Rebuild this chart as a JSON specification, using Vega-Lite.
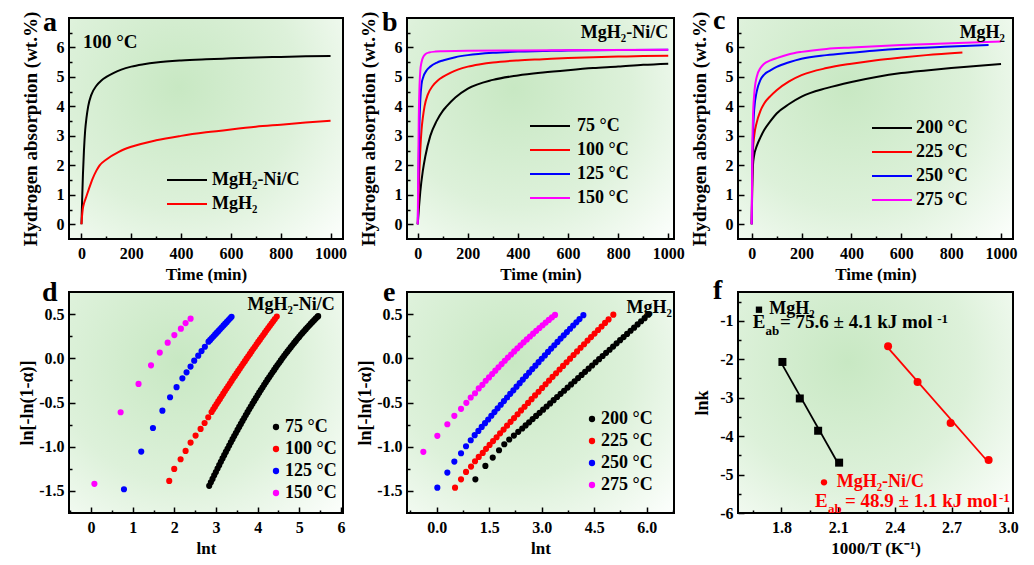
{
"$schema":"https://vega.github.io/schema/vega-lite/v6.json",
"padding":{"left":17,"top":5,"right":5,"bottom":5},
"config":{
"font":"Liberation Serif",
"locale":{"number":{"decimal":".","thousands":"","grouping":[3],"currency":["",""],"minus":"-"}},
"view":{"stroke":"#000","strokeWidth":2,"fill":{"gradient":"radial","x1":0.4,"y1":0.35,"r1":0,"x2":0.4,"y2":0.35,"r2":0.8,"stops":[{"offset":0,"color":"#c8e8c3"},{"offset":0.55,"color":"#ddf1da"},{"offset":1,"color":"#fbfefb"}]}},
"axis":{"domain":false,"grid":false,"tickColor":"#000","tickWidth":1.5,"labelFont":"Liberation Serif","labelFontSize":16,"labelFontWeight":"bold","labelColor":"#000","titleFont":"Liberation Serif","titleFontSize":18,"titleFontWeight":"bold","titleColor":"#000","labelOverlap":false,"labelFlush":false},
"axisX":{"labelPadding":12,"titlePadding":2,"titleFontSize":17},
"axisY":{"labelPadding":11,"titlePadding":10},
"legend":{"labelFont":"Liberation Serif","labelFontSize":18,"labelFontWeight":"bold","labelColor":"#000"},
"text":{"font":"Liberation Serif","fontWeight":"bold","color":"#000"}
},
"datasets":{
"a":[
{"s":"MgH₂-Ni/C","x":0,"y":0},{"s":"MgH₂-Ni/C","x":3,"y":0.9},{"s":"MgH₂-Ni/C","x":6,"y":1.7},{"s":"MgH₂-Ni/C","x":10,"y":2.5},{"s":"MgH₂-Ni/C","x":15,"y":3.2},{"s":"MgH₂-Ni/C","x":20,"y":3.6},{"s":"MgH₂-Ni/C","x":27,"y":4.0},{"s":"MgH₂-Ni/C","x":40,"y":4.4},{"s":"MgH₂-Ni/C","x":60,"y":4.7},{"s":"MgH₂-Ni/C","x":80,"y":4.88},{"s":"MgH₂-Ni/C","x":100,"y":5.0},{"s":"MgH₂-Ni/C","x":130,"y":5.14},{"s":"MgH₂-Ni/C","x":160,"y":5.25},{"s":"MgH₂-Ni/C","x":200,"y":5.35},{"s":"MgH₂-Ni/C","x":250,"y":5.43},{"s":"MgH₂-Ni/C","x":300,"y":5.49},{"s":"MgH₂-Ni/C","x":400,"y":5.56},{"s":"MgH₂-Ni/C","x":500,"y":5.6},{"s":"MgH₂-Ni/C","x":600,"y":5.63},{"s":"MgH₂-Ni/C","x":700,"y":5.66},{"s":"MgH₂-Ni/C","x":800,"y":5.68},{"s":"MgH₂-Ni/C","x":900,"y":5.7},{"s":"MgH₂-Ni/C","x":1000,"y":5.71},
{"s":"MgH₂","x":0,"y":0},{"s":"MgH₂","x":2,"y":0.25},{"s":"MgH₂","x":5,"y":0.5},{"s":"MgH₂","x":10,"y":0.7},{"s":"MgH₂","x":20,"y":0.95},{"s":"MgH₂","x":30,"y":1.2},{"s":"MgH₂","x":45,"y":1.55},{"s":"MgH₂","x":60,"y":1.82},{"s":"MgH₂","x":73,"y":2.0},{"s":"MgH₂","x":100,"y":2.2},{"s":"MgH₂","x":150,"y":2.46},{"s":"MgH₂","x":200,"y":2.63},{"s":"MgH₂","x":300,"y":2.85},{"s":"MgH₂","x":400,"y":3.0},{"s":"MgH₂","x":500,"y":3.12},{"s":"MgH₂","x":600,"y":3.22},{"s":"MgH₂","x":700,"y":3.31},{"s":"MgH₂","x":800,"y":3.38},{"s":"MgH₂","x":900,"y":3.45},{"s":"MgH₂","x":1000,"y":3.51}
],
"b":[
{"s":"75 °C","x":0,"y":0},{"s":"75 °C","x":5,"y":0.6},{"s":"75 °C","x":10,"y":1.1},{"s":"75 °C","x":20,"y":1.8},{"s":"75 °C","x":30,"y":2.3},{"s":"75 °C","x":50,"y":3.0},{"s":"75 °C","x":75,"y":3.5},{"s":"75 °C","x":100,"y":3.85},{"s":"75 °C","x":115,"y":4.0},{"s":"75 °C","x":150,"y":4.3},{"s":"75 °C","x":200,"y":4.6},{"s":"75 °C","x":300,"y":4.9},{"s":"75 °C","x":400,"y":5.05},{"s":"75 °C","x":500,"y":5.15},{"s":"75 °C","x":600,"y":5.23},{"s":"75 °C","x":700,"y":5.3},{"s":"75 °C","x":800,"y":5.35},{"s":"75 °C","x":900,"y":5.41},{"s":"75 °C","x":1000,"y":5.45},
{"s":"100 °C","x":0,"y":0},{"s":"100 °C","x":3,"y":0.9},{"s":"100 °C","x":6,"y":1.7},{"s":"100 °C","x":10,"y":2.5},{"s":"100 °C","x":15,"y":3.2},{"s":"100 °C","x":20,"y":3.6},{"s":"100 °C","x":27,"y":4.0},{"s":"100 °C","x":40,"y":4.4},{"s":"100 °C","x":60,"y":4.7},{"s":"100 °C","x":80,"y":4.88},{"s":"100 °C","x":100,"y":5.0},{"s":"100 °C","x":130,"y":5.14},{"s":"100 °C","x":160,"y":5.25},{"s":"100 °C","x":200,"y":5.35},{"s":"100 °C","x":250,"y":5.43},{"s":"100 °C","x":300,"y":5.49},{"s":"100 °C","x":400,"y":5.56},{"s":"100 °C","x":500,"y":5.6},{"s":"100 °C","x":600,"y":5.64},{"s":"100 °C","x":700,"y":5.67},{"s":"100 °C","x":800,"y":5.69},{"s":"100 °C","x":900,"y":5.71},{"s":"100 °C","x":1000,"y":5.72},
{"s":"125 °C","x":0,"y":0},{"s":"125 °C","x":3,"y":1.8},{"s":"125 °C","x":6,"y":3.2},{"s":"125 °C","x":10,"y":4.2},{"s":"125 °C","x":15,"y":4.75},{"s":"125 °C","x":22,"y":5.0},{"s":"125 °C","x":35,"y":5.22},{"s":"125 °C","x":50,"y":5.35},{"s":"125 °C","x":75,"y":5.48},{"s":"125 °C","x":100,"y":5.56},{"s":"125 °C","x":150,"y":5.67},{"s":"125 °C","x":200,"y":5.74},{"s":"125 °C","x":300,"y":5.82},{"s":"125 °C","x":400,"y":5.86},{"s":"125 °C","x":500,"y":5.88},{"s":"125 °C","x":600,"y":5.9},{"s":"125 °C","x":800,"y":5.91},{"s":"125 °C","x":1000,"y":5.92},
{"s":"150 °C","x":0,"y":0},{"s":"150 °C","x":2,"y":2.0},{"s":"150 °C","x":4,"y":3.6},{"s":"150 °C","x":7,"y":4.7},{"s":"150 °C","x":10,"y":5.2},{"s":"150 °C","x":15,"y":5.5},{"s":"150 °C","x":22,"y":5.68},{"s":"150 °C","x":30,"y":5.77},{"s":"150 °C","x":45,"y":5.83},{"s":"150 °C","x":70,"y":5.86},{"s":"150 °C","x":100,"y":5.87},{"s":"150 °C","x":200,"y":5.89},{"s":"150 °C","x":400,"y":5.9},{"s":"150 °C","x":700,"y":5.91},{"s":"150 °C","x":1000,"y":5.92}
],
"c":[
{"s":"200 °C","x":0,"y":0},{"s":"200 °C","x":2,"y":1.2},{"s":"200 °C","x":5,"y":2.0},{"s":"200 °C","x":10,"y":2.35},{"s":"200 °C","x":20,"y":2.65},{"s":"200 °C","x":35,"y":2.95},{"s":"200 °C","x":50,"y":3.2},{"s":"200 °C","x":75,"y":3.5},{"s":"200 °C","x":100,"y":3.76},{"s":"200 °C","x":150,"y":4.08},{"s":"200 °C","x":200,"y":4.33},{"s":"200 °C","x":300,"y":4.62},{"s":"200 °C","x":400,"y":4.83},{"s":"200 °C","x":500,"y":5.0},{"s":"200 °C","x":600,"y":5.13},{"s":"200 °C","x":700,"y":5.22},{"s":"200 °C","x":800,"y":5.3},{"s":"200 °C","x":900,"y":5.37},{"s":"200 °C","x":1000,"y":5.44},
{"s":"225 °C","x":0,"y":0},{"s":"225 °C","x":2,"y":1.5},{"s":"225 °C","x":5,"y":2.5},{"s":"225 °C","x":10,"y":3.0},{"s":"225 °C","x":20,"y":3.45},{"s":"225 °C","x":35,"y":3.85},{"s":"225 °C","x":50,"y":4.1},{"s":"225 °C","x":75,"y":4.35},{"s":"225 °C","x":100,"y":4.55},{"s":"225 °C","x":150,"y":4.85},{"s":"225 °C","x":200,"y":5.06},{"s":"225 °C","x":300,"y":5.3},{"s":"225 °C","x":400,"y":5.45},{"s":"225 °C","x":500,"y":5.57},{"s":"225 °C","x":600,"y":5.66},{"s":"225 °C","x":700,"y":5.74},{"s":"225 °C","x":845,"y":5.83},
{"s":"250 °C","x":0,"y":0},{"s":"250 °C","x":2,"y":1.8},{"s":"250 °C","x":5,"y":3.0},{"s":"250 °C","x":10,"y":3.9},{"s":"250 °C","x":20,"y":4.5},{"s":"250 °C","x":35,"y":4.9},{"s":"250 °C","x":50,"y":5.08},{"s":"250 °C","x":75,"y":5.22},{"s":"250 °C","x":100,"y":5.34},{"s":"250 °C","x":150,"y":5.5},{"s":"250 °C","x":200,"y":5.62},{"s":"250 °C","x":300,"y":5.74},{"s":"250 °C","x":400,"y":5.82},{"s":"250 °C","x":500,"y":5.9},{"s":"250 °C","x":600,"y":5.96},{"s":"250 °C","x":800,"y":6.03},{"s":"250 °C","x":950,"y":6.08},
{"s":"275 °C","x":0,"y":0},{"s":"275 °C","x":2,"y":2.2},{"s":"275 °C","x":5,"y":3.6},{"s":"275 °C","x":10,"y":4.4},{"s":"275 °C","x":20,"y":5.0},{"s":"275 °C","x":35,"y":5.3},{"s":"275 °C","x":50,"y":5.45},{"s":"275 °C","x":75,"y":5.56},{"s":"275 °C","x":100,"y":5.64},{"s":"275 °C","x":150,"y":5.77},{"s":"275 °C","x":200,"y":5.85},{"s":"275 °C","x":300,"y":5.95},{"s":"275 °C","x":400,"y":6.0},{"s":"275 °C","x":600,"y":6.08},{"s":"275 °C","x":800,"y":6.14},{"s":"275 °C","x":1000,"y":6.2}
],
"d":[
{"s":"75 °C","x":2.837,"y":-1.443},{"s":"75 °C","x":2.877,"y":-1.403},{"s":"75 °C","x":2.917,"y":-1.364},{"s":"75 °C","x":2.957,"y":-1.324},{"s":"75 °C","x":2.997,"y":-1.286},{"s":"75 °C","x":3.037,"y":-1.247},{"s":"75 °C","x":3.077,"y":-1.209},{"s":"75 °C","x":3.117,"y":-1.171},{"s":"75 °C","x":3.157,"y":-1.133},{"s":"75 °C","x":3.197,"y":-1.096},{"s":"75 °C","x":3.237,"y":-1.059},{"s":"75 °C","x":3.277,"y":-1.023},{"s":"75 °C","x":3.317,"y":-0.986},{"s":"75 °C","x":3.357,"y":-0.95},{"s":"75 °C","x":3.397,"y":-0.915},{"s":"75 °C","x":3.437,"y":-0.88},{"s":"75 °C","x":3.477,"y":-0.845},{"s":"75 °C","x":3.517,"y":-0.81},{"s":"75 °C","x":3.557,"y":-0.776},{"s":"75 °C","x":3.597,"y":-0.742},{"s":"75 °C","x":3.637,"y":-0.708},{"s":"75 °C","x":3.677,"y":-0.675},{"s":"75 °C","x":3.717,"y":-0.642},{"s":"75 °C","x":3.757,"y":-0.609},{"s":"75 °C","x":3.797,"y":-0.577},{"s":"75 °C","x":3.837,"y":-0.545},{"s":"75 °C","x":3.877,"y":-0.513},{"s":"75 °C","x":3.917,"y":-0.482},{"s":"75 °C","x":3.957,"y":-0.451},{"s":"75 °C","x":3.997,"y":-0.42},{"s":"75 °C","x":4.037,"y":-0.389},{"s":"75 °C","x":4.077,"y":-0.359},{"s":"75 °C","x":4.117,"y":-0.33},{"s":"75 °C","x":4.157,"y":-0.3},{"s":"75 °C","x":4.197,"y":-0.271},{"s":"75 °C","x":4.237,"y":-0.242},{"s":"75 °C","x":4.277,"y":-0.214},{"s":"75 °C","x":4.317,"y":-0.186},{"s":"75 °C","x":4.357,"y":-0.158},{"s":"75 °C","x":4.397,"y":-0.131},{"s":"75 °C","x":4.437,"y":-0.103},{"s":"75 °C","x":4.477,"y":-0.077},{"s":"75 °C","x":4.517,"y":-0.05},{"s":"75 °C","x":4.557,"y":-0.024},{"s":"75 °C","x":4.597,"y":0.002},{"s":"75 °C","x":4.637,"y":0.028},{"s":"75 °C","x":4.677,"y":0.053},{"s":"75 °C","x":4.717,"y":0.078},{"s":"75 °C","x":4.757,"y":0.102},{"s":"75 °C","x":4.797,"y":0.126},{"s":"75 °C","x":4.837,"y":0.15},{"s":"75 °C","x":4.877,"y":0.174},{"s":"75 °C","x":4.917,"y":0.197},{"s":"75 °C","x":4.957,"y":0.22},{"s":"75 °C","x":4.997,"y":0.242},{"s":"75 °C","x":5.037,"y":0.265},{"s":"75 °C","x":5.077,"y":0.287},{"s":"75 °C","x":5.117,"y":0.308},{"s":"75 °C","x":5.157,"y":0.33},{"s":"75 °C","x":5.197,"y":0.351},{"s":"75 °C","x":5.237,"y":0.371},{"s":"75 °C","x":5.277,"y":0.392},{"s":"75 °C","x":5.317,"y":0.412},{"s":"75 °C","x":5.357,"y":0.431},{"s":"75 °C","x":5.397,"y":0.451},{"s":"75 °C","x":5.437,"y":0.47},{"s":"75 °C","x":5.453,"y":0.477},
{"s":"100 °C","x":1.877,"y":-1.387},{"s":"100 °C","x":1.997,"y":-1.251},{"s":"100 °C","x":2.15,"y":-1.142},{"s":"100 °C","x":2.27,"y":-1.048},{"s":"100 °C","x":2.39,"y":-0.953},{"s":"100 °C","x":2.51,"y":-0.874},{"s":"100 °C","x":2.63,"y":-0.799},{"s":"100 °C","x":2.726,"y":-0.732},{"s":"100 °C","x":2.814,"y":-0.667},{"s":"100 °C","x":2.894,"y":-0.607},{"s":"100 °C","x":2.934,"y":-0.577},{"s":"100 °C","x":2.974,"y":-0.547},{"s":"100 °C","x":3.014,"y":-0.518},{"s":"100 °C","x":3.054,"y":-0.488},{"s":"100 °C","x":3.094,"y":-0.459},{"s":"100 °C","x":3.134,"y":-0.429},{"s":"100 °C","x":3.174,"y":-0.4},{"s":"100 °C","x":3.214,"y":-0.371},{"s":"100 °C","x":3.254,"y":-0.342},{"s":"100 °C","x":3.294,"y":-0.313},{"s":"100 °C","x":3.334,"y":-0.285},{"s":"100 °C","x":3.374,"y":-0.256},{"s":"100 °C","x":3.414,"y":-0.227},{"s":"100 °C","x":3.454,"y":-0.199},{"s":"100 °C","x":3.494,"y":-0.171},{"s":"100 °C","x":3.534,"y":-0.143},{"s":"100 °C","x":3.574,"y":-0.115},{"s":"100 °C","x":3.614,"y":-0.087},{"s":"100 °C","x":3.654,"y":-0.059},{"s":"100 °C","x":3.694,"y":-0.032},{"s":"100 °C","x":3.734,"y":-0.004},{"s":"100 °C","x":3.774,"y":0.023},{"s":"100 °C","x":3.814,"y":0.05},{"s":"100 °C","x":3.854,"y":0.078},{"s":"100 °C","x":3.894,"y":0.105},{"s":"100 °C","x":3.934,"y":0.131},{"s":"100 °C","x":3.974,"y":0.158},{"s":"100 °C","x":4.014,"y":0.185},{"s":"100 °C","x":4.054,"y":0.211},{"s":"100 °C","x":4.094,"y":0.238},{"s":"100 °C","x":4.134,"y":0.264},{"s":"100 °C","x":4.174,"y":0.29},{"s":"100 °C","x":4.214,"y":0.316},{"s":"100 °C","x":4.254,"y":0.342},{"s":"100 °C","x":4.294,"y":0.367},{"s":"100 °C","x":4.334,"y":0.393},{"s":"100 °C","x":4.374,"y":0.419},{"s":"100 °C","x":4.414,"y":0.444},{"s":"100 °C","x":4.46,"y":0.473},
{"s":"125 °C","x":0.79,"y":-1.481},{"s":"125 °C","x":1.205,"y":-1.055},{"s":"125 °C","x":1.486,"y":-0.788},{"s":"125 °C","x":1.713,"y":-0.592},{"s":"125 °C","x":1.897,"y":-0.441},{"s":"125 °C","x":2.053,"y":-0.327},{"s":"125 °C","x":2.193,"y":-0.227},{"s":"125 °C","x":2.293,"y":-0.159},{"s":"125 °C","x":2.389,"y":-0.094},{"s":"125 °C","x":2.477,"y":-0.027},{"s":"125 °C","x":2.573,"y":0.03},{"s":"125 °C","x":2.653,"y":0.082},{"s":"125 °C","x":2.733,"y":0.131},{"s":"125 °C","x":2.821,"y":0.188},{"s":"125 °C","x":2.861,"y":0.208},{"s":"125 °C","x":2.901,"y":0.229},{"s":"125 °C","x":2.941,"y":0.249},{"s":"125 °C","x":2.981,"y":0.27},{"s":"125 °C","x":3.021,"y":0.29},{"s":"125 °C","x":3.061,"y":0.31},{"s":"125 °C","x":3.101,"y":0.331},{"s":"125 °C","x":3.141,"y":0.351},{"s":"125 °C","x":3.181,"y":0.372},{"s":"125 °C","x":3.221,"y":0.392},{"s":"125 °C","x":3.261,"y":0.412},{"s":"125 °C","x":3.301,"y":0.433},{"s":"125 °C","x":3.341,"y":0.453},{"s":"125 °C","x":3.374,"y":0.47},
{"s":"150 °C","x":0.08,"y":-1.42},{"s":"150 °C","x":0.71,"y":-0.61},{"s":"150 °C","x":1.14,"y":-0.29},{"s":"150 °C","x":1.44,"y":-0.08},{"s":"150 °C","x":1.65,"y":0.065},{"s":"150 °C","x":1.84,"y":0.177},{"s":"150 °C","x":2.0,"y":0.263},{"s":"150 °C","x":2.157,"y":0.335},{"s":"150 °C","x":2.27,"y":0.398},{"s":"150 °C","x":2.39,"y":0.448}
],
"e":[
{"s":"200 °C","x":1.104,"y":-1.369},{"s":"200 °C","x":1.39,"y":-1.217},{"s":"200 °C","x":1.6,"y":-1.123},{"s":"200 °C","x":1.78,"y":-1.04},{"s":"200 °C","x":1.93,"y":-0.972},{"s":"200 °C","x":2.071,"y":-0.919},{"s":"200 °C","x":2.205,"y":-0.874},{"s":"200 °C","x":2.329,"y":-0.832},{"s":"200 °C","x":2.443,"y":-0.794},{"s":"200 °C","x":2.54,"y":-0.759},{"s":"200 °C","x":2.64,"y":-0.724},{"s":"200 °C","x":2.74,"y":-0.688},{"s":"200 °C","x":2.84,"y":-0.652},{"s":"200 °C","x":2.94,"y":-0.617},{"s":"200 °C","x":3.04,"y":-0.581},{"s":"200 °C","x":3.14,"y":-0.545},{"s":"200 °C","x":3.24,"y":-0.51},{"s":"200 °C","x":3.34,"y":-0.474},{"s":"200 °C","x":3.44,"y":-0.438},{"s":"200 °C","x":3.54,"y":-0.402},{"s":"200 °C","x":3.64,"y":-0.367},{"s":"200 °C","x":3.74,"y":-0.331},{"s":"200 °C","x":3.84,"y":-0.295},{"s":"200 °C","x":3.94,"y":-0.26},{"s":"200 °C","x":4.04,"y":-0.224},{"s":"200 °C","x":4.14,"y":-0.188},{"s":"200 °C","x":4.24,"y":-0.153},{"s":"200 °C","x":4.34,"y":-0.117},{"s":"200 °C","x":4.44,"y":-0.081},{"s":"200 °C","x":4.54,"y":-0.045},{"s":"200 °C","x":4.64,"y":-0.01},{"s":"200 °C","x":4.74,"y":0.026},{"s":"200 °C","x":4.84,"y":0.062},{"s":"200 °C","x":4.94,"y":0.097},{"s":"200 °C","x":5.04,"y":0.133},{"s":"200 °C","x":5.14,"y":0.169},{"s":"200 °C","x":5.24,"y":0.205},{"s":"200 °C","x":5.34,"y":0.24},{"s":"200 °C","x":5.44,"y":0.276},{"s":"200 °C","x":5.54,"y":0.312},{"s":"200 °C","x":5.64,"y":0.347},{"s":"200 °C","x":5.74,"y":0.383},{"s":"200 °C","x":5.84,"y":0.419},{"s":"200 °C","x":5.94,"y":0.454},{"s":"200 °C","x":6.046,"y":0.493},
{"s":"225 °C","x":0.523,"y":-1.463},{"s":"225 °C","x":0.694,"y":-1.369},{"s":"225 °C","x":0.837,"y":-1.285},{"s":"225 °C","x":0.98,"y":-1.225},{"s":"225 °C","x":1.094,"y":-1.165},{"s":"225 °C","x":1.2,"y":-1.116},{"s":"225 °C","x":1.314,"y":-1.07},{"s":"225 °C","x":1.41,"y":-1.024},{"s":"225 °C","x":1.51,"y":-0.98},{"s":"225 °C","x":1.61,"y":-0.936},{"s":"225 °C","x":1.71,"y":-0.893},{"s":"225 °C","x":1.81,"y":-0.849},{"s":"225 °C","x":1.91,"y":-0.806},{"s":"225 °C","x":2.01,"y":-0.762},{"s":"225 °C","x":2.11,"y":-0.719},{"s":"225 °C","x":2.21,"y":-0.676},{"s":"225 °C","x":2.31,"y":-0.633},{"s":"225 °C","x":2.41,"y":-0.59},{"s":"225 °C","x":2.51,"y":-0.548},{"s":"225 °C","x":2.61,"y":-0.505},{"s":"225 °C","x":2.71,"y":-0.462},{"s":"225 °C","x":2.81,"y":-0.42},{"s":"225 °C","x":2.91,"y":-0.378},{"s":"225 °C","x":3.01,"y":-0.336},{"s":"225 °C","x":3.11,"y":-0.294},{"s":"225 °C","x":3.21,"y":-0.252},{"s":"225 °C","x":3.31,"y":-0.21},{"s":"225 °C","x":3.41,"y":-0.169},{"s":"225 °C","x":3.51,"y":-0.127},{"s":"225 °C","x":3.61,"y":-0.086},{"s":"225 °C","x":3.71,"y":-0.045},{"s":"225 °C","x":3.81,"y":-0.004},{"s":"225 °C","x":3.91,"y":0.037},{"s":"225 °C","x":4.01,"y":0.078},{"s":"225 °C","x":4.11,"y":0.119},{"s":"225 °C","x":4.21,"y":0.159},{"s":"225 °C","x":4.31,"y":0.2},{"s":"225 °C","x":4.41,"y":0.24},{"s":"225 °C","x":4.51,"y":0.28},{"s":"225 °C","x":4.61,"y":0.32},{"s":"225 °C","x":4.71,"y":0.36},{"s":"225 °C","x":4.81,"y":0.4},{"s":"225 °C","x":4.91,"y":0.44},{"s":"225 °C","x":5.046,"y":0.494},
{"s":"250 °C","x":0.017,"y":-1.463},{"s":"250 °C","x":0.303,"y":-1.293},{"s":"250 °C","x":0.503,"y":-1.168},{"s":"250 °C","x":0.694,"y":-1.074},{"s":"250 °C","x":0.837,"y":-0.995},{"s":"250 °C","x":0.971,"y":-0.927},{"s":"250 °C","x":1.084,"y":-0.87},{"s":"250 °C","x":1.19,"y":-0.821},{"s":"250 °C","x":1.285,"y":-0.776},{"s":"250 °C","x":1.38,"y":-0.734},{"s":"250 °C","x":1.47,"y":-0.692},{"s":"250 °C","x":1.56,"y":-0.65},{"s":"250 °C","x":1.65,"y":-0.608},{"s":"250 °C","x":1.74,"y":-0.566},{"s":"250 °C","x":1.83,"y":-0.525},{"s":"250 °C","x":1.92,"y":-0.484},{"s":"250 °C","x":2.01,"y":-0.443},{"s":"250 °C","x":2.1,"y":-0.402},{"s":"250 °C","x":2.19,"y":-0.362},{"s":"250 °C","x":2.28,"y":-0.321},{"s":"250 °C","x":2.37,"y":-0.281},{"s":"250 °C","x":2.46,"y":-0.241},{"s":"250 °C","x":2.55,"y":-0.201},{"s":"250 °C","x":2.64,"y":-0.162},{"s":"250 °C","x":2.73,"y":-0.122},{"s":"250 °C","x":2.82,"y":-0.083},{"s":"250 °C","x":2.91,"y":-0.044},{"s":"250 °C","x":3.0,"y":-0.005},{"s":"250 °C","x":3.09,"y":0.033},{"s":"250 °C","x":3.18,"y":0.072},{"s":"250 °C","x":3.27,"y":0.11},{"s":"250 °C","x":3.36,"y":0.148},{"s":"250 °C","x":3.45,"y":0.185},{"s":"250 °C","x":3.54,"y":0.223},{"s":"250 °C","x":3.63,"y":0.26},{"s":"250 °C","x":3.72,"y":0.297},{"s":"250 °C","x":3.81,"y":0.334},{"s":"250 °C","x":3.9,"y":0.371},{"s":"250 °C","x":3.99,"y":0.408},{"s":"250 °C","x":4.08,"y":0.444},{"s":"250 °C","x":4.19,"y":0.488},
{"s":"275 °C","x":-0.383,"y":-1.058},{"s":"275 °C","x":0.017,"y":-0.877},{"s":"275 °C","x":0.303,"y":-0.746},{"s":"275 °C","x":0.503,"y":-0.651},{"s":"275 °C","x":0.694,"y":-0.572},{"s":"275 °C","x":0.846,"y":-0.504},{"s":"275 °C","x":0.971,"y":-0.443},{"s":"275 °C","x":1.094,"y":-0.395},{"s":"275 °C","x":1.2,"y":-0.341},{"s":"275 °C","x":1.305,"y":-0.3},{"s":"275 °C","x":1.4,"y":-0.254},{"s":"275 °C","x":1.494,"y":-0.216},{"s":"275 °C","x":1.584,"y":-0.178},{"s":"275 °C","x":1.674,"y":-0.14},{"s":"275 °C","x":1.764,"y":-0.102},{"s":"275 °C","x":1.854,"y":-0.065},{"s":"275 °C","x":1.944,"y":-0.028},{"s":"275 °C","x":2.034,"y":0.008},{"s":"275 °C","x":2.124,"y":0.043},{"s":"275 °C","x":2.214,"y":0.078},{"s":"275 °C","x":2.304,"y":0.113},{"s":"275 °C","x":2.394,"y":0.147},{"s":"275 °C","x":2.484,"y":0.181},{"s":"275 °C","x":2.574,"y":0.214},{"s":"275 °C","x":2.664,"y":0.247},{"s":"275 °C","x":2.754,"y":0.279},{"s":"275 °C","x":2.844,"y":0.311},{"s":"275 °C","x":2.934,"y":0.343},{"s":"275 °C","x":3.024,"y":0.374},{"s":"275 °C","x":3.114,"y":0.404},{"s":"275 °C","x":3.204,"y":0.434},{"s":"275 °C","x":3.294,"y":0.463},{"s":"275 °C","x":3.38,"y":0.491}
],
"f":[
{"s":"MgH₂","x":1.805,"y":-2.07},{"s":"MgH₂","x":1.897,"y":-3.02},{"s":"MgH₂","x":1.994,"y":-3.86},{"s":"MgH₂","x":2.105,"y":-4.69},
{"s":"MgH₂-Ni/C","x":2.364,"y":-1.66},{"s":"MgH₂-Ni/C","x":2.52,"y":-2.59},{"s":"MgH₂-Ni/C","x":2.695,"y":-3.66},{"s":"MgH₂-Ni/C","x":2.896,"y":-4.62}
],
"fa":[
{"s":"MgH₂","k":"mk","x":1.681,"y":-0.711,"t":""},
{"s":"MgH₂","k":"lab","x":1.735,"y":-0.815,"t":"MgH₂"},
{"s":"MgH₂","k":"m","x":1.648,"y":-1.187,"t":"E"},
{"s":"MgH₂","k":"sub","x":1.7155,"y":-1.361,"t":"ab"},
{"s":"MgH₂","k":"m","x":1.792,"y":-1.187,"t":"= 75.6 ± 4.1 kJ mol"},
{"s":"MgH₂","k":"sup","x":2.624,"y":-1.057,"t":"-1"},
{"s":"MgH₂-Ni/C","k":"mk","x":2.025,"y":-5.202,"t":""},
{"s":"MgH₂-Ni/C","k":"lab","x":2.092,"y":-5.332,"t":"MgH₂-Ni/C"},
{"s":"MgH₂-Ni/C","k":"m","x":1.977,"y":-5.852,"t":"E"},
{"s":"MgH₂-Ni/C","k":"sub","x":2.046,"y":-6.0,"t":"ab"},
{"s":"MgH₂-Ni/C","k":"m","x":2.136,"y":-5.852,"t":"= 48.9 ± 1.1 kJ mol"},
{"s":"MgH₂-Ni/C","k":"sup","x":2.951,"y":-5.714,"t":"-1"}
]
},
"columns":3,
"spacing":{"row":53,"column":64},
"bounds":"flush",
"resolve":{"scale":{"color":"independent","shape":"independent"},"legend":{"color":"independent"}},
"concat":[
{"width":274,"height":221,
"encoding":{
"x":{"field":"x","type":"quantitative","scale":{"domain":[-50,1050],"nice":false,"zero":false},"axis":{"title":"Time (min)","values":[0,100,200,300,400,500,600,700,800,900,1000],"labelExpr":"datum.value % 200 === 0 ? format(datum.value, 'd') : ''","tickSize":{"condition":{"test":"datum.value % 200 === 0","value":-6},"value":-3}}},
"y":{"field":"y","type":"quantitative","scale":{"domain":[-0.5,7],"nice":false,"zero":false},"axis":{"title":"Hydrogen absorption  (wt.%)","titleFontSize":19,"titlePadding":16,"values":[0,0.5,1,1.5,2,2.5,3,3.5,4,4.5,5,5.5,6,6.5],"labelExpr":"datum.value % 1 === 0 ? format(datum.value, 'd') : ''","tickSize":{"condition":{"test":"datum.value % 1 === 0","value":-6},"value":-3}}}},
"layer":[
{"data":{"name":"a"},"mark":{"type":"line","strokeWidth":2,"interpolate":"monotone"},
"encoding":{"color":{"field":"s","type":"nominal","scale":{"domain":["MgH₂-Ni/C","MgH₂"],"range":["#000000","#ff0000"]},"legend":{"title":null,"orient":"none","legendX":107,"legendY":151,"symbolType":"M-2,0H2","symbolSize":400,"symbolStrokeWidth":2,"labelOffset":14,"rowPadding":4}}}},
{"data":{"values":[{"x":6,"y":5.98,"t":"100 °C"}]},"mark":{"type":"text","align":"left","baseline":"alphabetic","fontSize":19},"encoding":{"text":{"field":"t"}}},
{"data":{"values":[{"x":-154.4,"y":6.56,"t":"a"}]},"mark":{"type":"text","align":"left","baseline":"alphabetic","fontSize":28},"encoding":{"text":{"field":"t"}}}
]},
{"width":267,"height":221,
"encoding":{
"x":{"field":"x","type":"quantitative","scale":{"domain":[-43,1023],"nice":false,"zero":false},"axis":{"title":"Time (min)","values":[0,100,200,300,400,500,600,700,800,900,1000],"labelExpr":"datum.value % 200 === 0 ? format(datum.value, 'd') : ''","tickSize":{"condition":{"test":"datum.value % 200 === 0","value":-6},"value":-3}}},
"y":{"field":"y","type":"quantitative","scale":{"domain":[-0.5,7],"nice":false,"zero":false},"axis":{"title":"Hydrogen absorption  (wt.%)","titleFontSize":19,"titlePadding":16,"values":[0,0.5,1,1.5,2,2.5,3,3.5,4,4.5,5,5.5,6,6.5],"labelExpr":"datum.value % 1 === 0 ? format(datum.value, 'd') : ''","tickSize":{"condition":{"test":"datum.value % 1 === 0","value":-6},"value":-3}}}},
"layer":[
{"data":{"name":"b"},"mark":{"type":"line","strokeWidth":2,"interpolate":"monotone"},
"encoding":{"color":{"field":"s","type":"nominal","scale":{"domain":["75 °C","100 °C","125 °C","150 °C"],"range":["#000000","#ff0000","#0000ff","#ff00ff"]},"legend":{"title":null,"orient":"none","legendX":132,"legendY":97,"symbolType":"M-2,0H2","symbolSize":400,"symbolStrokeWidth":2,"labelOffset":16,"rowPadding":4}}}},
{"data":{"values":[{"x":1000,"y":6.33,"t":"MgH₂-Ni/C"}]},"mark":{"type":"text","align":"right","baseline":"alphabetic","fontSize":18},"encoding":{"text":{"field":"t"}}},
{"data":{"values":[{"x":-143,"y":6.57,"t":"b"}]},"mark":{"type":"text","align":"left","baseline":"alphabetic","fontSize":28},"encoding":{"text":{"field":"t"}}}
]},
{"width":275,"height":221,
"encoding":{
"x":{"field":"x","type":"quantitative","scale":{"domain":[-55,1048],"nice":false,"zero":false},"axis":{"title":"Time (min)","values":[0,100,200,300,400,500,600,700,800,900,1000],"labelExpr":"datum.value % 200 === 0 ? format(datum.value, 'd') : ''","tickSize":{"condition":{"test":"datum.value % 200 === 0","value":-6},"value":-3}}},
"y":{"field":"y","type":"quantitative","scale":{"domain":[-0.5,7],"nice":false,"zero":false},"axis":{"title":"Hydrogen absorption  (wt.%)","titleFontSize":19,"titlePadding":16,"values":[0,0.5,1,1.5,2,2.5,3,3.5,4,4.5,5,5.5,6,6.5],"labelExpr":"datum.value % 1 === 0 ? format(datum.value, 'd') : ''","tickSize":{"condition":{"test":"datum.value % 1 === 0","value":-6},"value":-3}}}},
"layer":[
{"data":{"name":"c"},"mark":{"type":"line","strokeWidth":2,"interpolate":"monotone"},
"encoding":{"color":{"field":"s","type":"nominal","scale":{"domain":["200 °C","225 °C","250 °C","275 °C"],"range":["#000000","#ff0000","#0000ff","#ff00ff"]},"legend":{"title":null,"orient":"none","legendX":143,"legendY":99,"symbolType":"M-2,0H2","symbolSize":400,"symbolStrokeWidth":2,"labelOffset":13,"rowPadding":4}}}},
{"data":{"values":[{"x":1016,"y":6.31,"t":"MgH₂"}]},"mark":{"type":"text","align":"right","baseline":"alphabetic","fontSize":18},"encoding":{"text":{"field":"t"}}},
{"data":{"values":[{"x":-155,"y":6.63,"t":"c"}]},"mark":{"type":"text","align":"left","baseline":"alphabetic","fontSize":28},"encoding":{"text":{"field":"t"}}}
]},
{"width":274,"height":221,
"encoding":{
"x":{"field":"x","type":"quantitative","scale":{"domain":[-0.53,6.05],"nice":false,"zero":false},"axis":{"title":"lnt","values":[-0.5,0,0.5,1,1.5,2,2.5,3,3.5,4,4.5,5,5.5,6],"labelExpr":"abs(datum.value - round(datum.value)) < 0.000001 ? format(datum.value, 'd') : ''","tickSize":{"condition":{"test":"abs(datum.value - round(datum.value)) < 0.000001","value":-6},"value":-3}}},
"y":{"field":"y","type":"quantitative","scale":{"domain":[-1.75,0.75],"nice":false,"zero":false},"axis":{"title":"ln[-ln(1-α)]","titlePadding":2,"values":[-1.5,-1.25,-1,-0.75,-0.5,-0.25,0,0.25,0.5],"labelExpr":"abs(datum.value*2 - round(datum.value*2)) < 0.000001 ? format(datum.value, '.1f') : ''","tickSize":{"condition":{"test":"abs(datum.value*2 - round(datum.value*2)) < 0.000001","value":-6},"value":-3}}}},
"layer":[
{"data":{"name":"d"},"mark":{"type":"circle","size":38,"opacity":1},
"encoding":{"color":{"field":"s","type":"nominal","scale":{"domain":["75 °C","100 °C","125 °C","150 °C"],"range":["#000000","#ff0000","#0000ff","#ff00ff"]},"legend":{"title":null,"orient":"none","legendX":198,"legendY":126,"symbolType":"circle","symbolSize":40,"labelOffset":0,"rowPadding":4}}}},
{"data":{"values":[{"x":5.853,"y":0.55,"t":"MgH₂-Ni/C"}]},"mark":{"type":"text","align":"right","baseline":"alphabetic","fontSize":18},"encoding":{"text":{"field":"t"}}},
{"data":{"values":[{"x":-1.178,"y":0.648,"t":"d"}]},"mark":{"type":"text","align":"left","baseline":"alphabetic","fontSize":28},"encoding":{"text":{"field":"t"}}}
]},
{"width":267,"height":221,
"encoding":{
"x":{"field":"x","type":"quantitative","scale":{"domain":[-0.85,6.78],"nice":false,"zero":false},"axis":{"title":"lnt","values":[-0.75,0,0.75,1.5,2.25,3,3.75,4.5,5.25,6,6.75],"labelExpr":"abs(datum.value/1.5 - round(datum.value/1.5)) < 0.000001 ? format(datum.value, '.1f') : ''","tickSize":{"condition":{"test":"abs(datum.value/1.5 - round(datum.value/1.5)) < 0.000001","value":-6},"value":-3}}},
"y":{"field":"y","type":"quantitative","scale":{"domain":[-1.75,0.75],"nice":false,"zero":false},"axis":{"title":"ln[-ln(1-α)]","titlePadding":2,"values":[-1.5,-1.25,-1,-0.75,-0.5,-0.25,0,0.25,0.5],"labelExpr":"abs(datum.value*2 - round(datum.value*2)) < 0.000001 ? format(datum.value, '.1f') : ''","tickSize":{"condition":{"test":"abs(datum.value*2 - round(datum.value*2)) < 0.000001","value":-6},"value":-3}}}},
"layer":[
{"data":{"name":"e"},"mark":{"type":"circle","size":38,"opacity":1},
"encoding":{"color":{"field":"s","type":"nominal","scale":{"domain":["200 °C","225 °C","250 °C","275 °C"],"range":["#000000","#ff0000","#0000ff","#ff00ff"]},"legend":{"title":null,"orient":"none","legendX":176,"legendY":118,"symbolType":"circle","symbolSize":40,"labelOffset":0,"rowPadding":4}}}},
{"data":{"values":[{"x":6.72,"y":0.512,"t":"MgH₂"}]},"mark":{"type":"text","align":"right","baseline":"alphabetic","fontSize":18},"encoding":{"text":{"field":"t"}}},
{"data":{"values":[{"x":-1.536,"y":0.648,"t":"e"}]},"mark":{"type":"text","align":"left","baseline":"alphabetic","fontSize":28},"encoding":{"text":{"field":"t"}}}
]},
{"width":275,"height":221,
"encoding":{
"x":{"field":"x","type":"quantitative","scale":{"domain":[1.57,3.025],"nice":false,"zero":false},"axis":{"title":"1000/T (K⁻¹)","values":[1.65,1.8,1.95,2.1,2.25,2.4,2.55,2.7,2.85,3.0],"labelExpr":"abs((datum.value-1.8)/0.3 - round((datum.value-1.8)/0.3)) < 0.000001 ? format(datum.value, '.1f') : ''","tickSize":{"condition":{"test":"abs((datum.value-1.8)/0.3 - round((datum.value-1.8)/0.3)) < 0.000001","value":-6},"value":-3}}},
"y":{"field":"y","type":"quantitative","scale":{"domain":[-6,-0.25],"nice":false,"zero":false},"axis":{"title":"lnk","titlePadding":8,"values":[-6,-5.5,-5,-4.5,-4,-3.5,-3,-2.5,-2,-1.5,-1,-0.5],"labelExpr":"abs(datum.value - round(datum.value)) < 0.000001 ? format(datum.value, 'd') : ''","tickSize":{"condition":{"test":"abs(datum.value - round(datum.value)) < 0.000001","value":-6},"value":-3}}}},
"layer":[
{"data":{"name":"f"},"transform":[{"regression":"y","on":"x","groupby":["s"]}],"mark":{"type":"line","strokeWidth":1.8},"encoding":{"color":{"field":"s","type":"nominal","scale":{"domain":["MgH₂","MgH₂-Ni/C"],"range":["#000000","#ff0000"]},"legend":null}}},
{"data":{"name":"f"},"mark":{"type":"point","filled":true,"size":64,"opacity":1},"encoding":{"color":{"field":"s","type":"nominal","legend":null},"shape":{"field":"s","type":"nominal","scale":{"domain":["MgH₂","MgH₂-Ni/C"],"range":["square","circle"]},"legend":null}}},
{"data":{"name":"fa"},"transform":[{"filter":"datum.k === 'mk'"}],"mark":{"type":"point","filled":true,"size":40,"opacity":1},"encoding":{"color":{"field":"s","type":"nominal","legend":null},"shape":{"field":"s","type":"nominal","scale":{"domain":["MgH₂","MgH₂-Ni/C"],"range":["square","circle"]},"legend":null}}},
{"data":{"name":"fa"},"transform":[{"filter":"datum.k === 'lab'"}],"mark":{"type":"text","align":"left","baseline":"alphabetic","fontSize":18},"encoding":{"text":{"field":"t"},"color":{"field":"s","type":"nominal","legend":null}}},
{"data":{"name":"fa"},"transform":[{"filter":"datum.k === 'm'"}],"mark":{"type":"text","align":"left","baseline":"alphabetic","fontSize":19},"encoding":{"text":{"field":"t"},"color":{"field":"s","type":"nominal","legend":null}}},
{"data":{"name":"fa"},"transform":[{"filter":"datum.k === 'sub' || datum.k === 'sup'"}],"mark":{"type":"text","align":"left","baseline":"alphabetic","fontSize":13},"encoding":{"text":{"field":"t"},"color":{"field":"s","type":"nominal","legend":null}}},
{"data":{"values":[{"x":1.438,"y":-0.432,"t":"f"}]},"mark":{"type":"text","align":"left","baseline":"alphabetic","fontSize":28},"encoding":{"text":{"field":"t"}}}
]}
]
}
